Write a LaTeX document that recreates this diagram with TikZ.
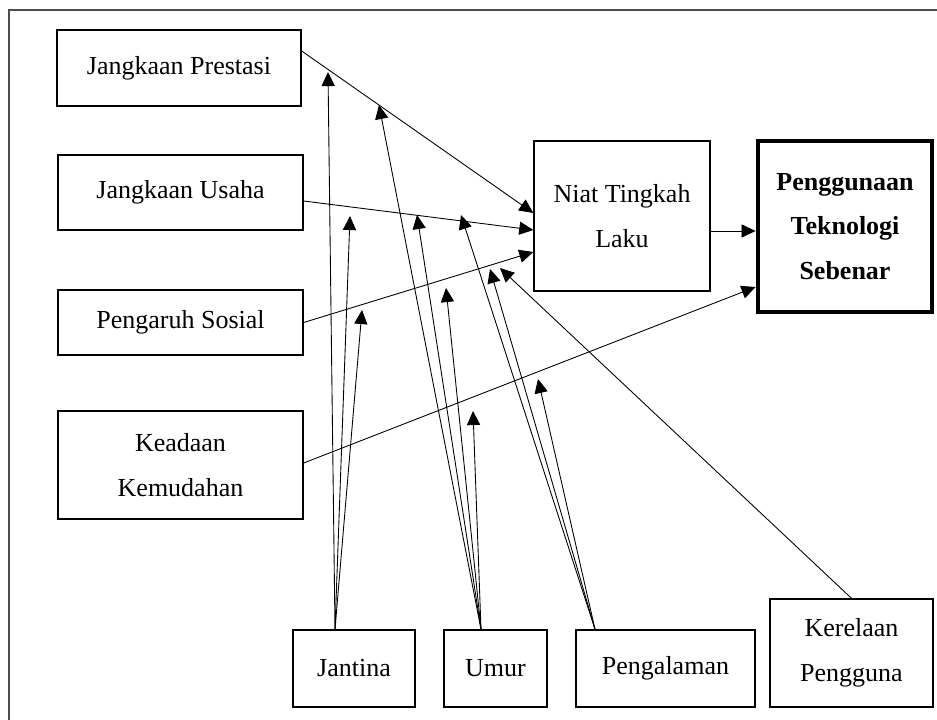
\documentclass[tikz,border=0pt]{standalone}
\usepackage{fontspec}
\setmainfont{Liberation Serif}
\usetikzlibrary{arrows.meta}

\tikzset{
  box/.style={draw, line width=0.8pt, align=center, inner sep=2pt,
    font=\fontsize{14.8}{25.5}\selectfont},
  mainbox/.style={box, line width=2.8pt, font=\fontsize{14.8}{25.5}\selectfont\bfseries},
  arr/.style={-{Triangle[length=8pt,width=7.5pt]}, line width=0.5pt},
}

\begin{document}
\begin{tikzpicture}[x=0.02cm, y=-0.02cm]
    \useasboundingbox (0,0) rectangle (937,720);
    % frame
    \draw[gray!60!black, line width=0.6pt] (937,10) -- (9,10) -- (9,720);

    % constructs on the left
    \node[box, minimum width=4.88cm, minimum height=1.52cm] (jp) at (179,68) {Jangkaan Prestasi};
    \node[box, minimum width=4.9cm, minimum height=1.5cm] (ju) at (180.5,192.5) {Jangkaan Usaha};
    \node[box, minimum width=4.9cm, minimum height=1.3cm] (ps) at (180.5,322.5) {Pengaruh Sosial};
    \node[box, minimum width=4.9cm, minimum height=2.16cm] (kk) at (180.5,465) {Keadaan\\Kemudahan};

    % intention and use
    \node[box, minimum width=3.52cm, minimum height=3cm] (ntl) at (622,216) {Niat Tingkah\\Laku};
    \node[mainbox, minimum width=3.48cm, minimum height=3.42cm] (pts) at (845,226.5) {Penggunaan\\Teknologi\\Sebenar};

    % moderators
    \node[box, minimum width=2.44cm, minimum height=1.54cm] (jan) at (354,668.5) {Jantina};
    \node[box, minimum width=2.06cm, minimum height=1.54cm] (umur) at (495.5,668.5) {Umur};
    \node[box, minimum width=3.58cm, minimum height=1.54cm] (peng) at (665.5,668.5) {Pengalaman};
    \node[box, minimum width=3.26cm, minimum height=2.16cm] (kp) at (851.5,653) {Kerelaan\\Pengguna};

    % main paths
    \draw[arr] ([yshift=0.34cm]jp.east) -- ([yshift=0.06cm]ntl.west);
    \draw[arr] ([yshift=-0.17cm]ju.east) -- ([yshift=-0.28cm]ntl.west);
    \draw[arr] (ps.east) -- ([yshift=-0.72cm]ntl.west);
    \draw[arr] ([yshift=0.04cm]kk.east) -- ([yshift=-1.21cm]pts.west);
    \draw[arr] ([yshift=-0.3cm]ntl.east) -- ([yshift=-0.3cm]ntl.east -| pts.west);

    % tips of the moderating arrows
    \coordinate (jan1) at (328,72);
    \coordinate (jan2) at (350,216);
    \coordinate (jan3) at (362,310);
    \coordinate (umur1) at (379,105);
    \coordinate (umur2) at (417,215);
    \coordinate (umur3) at (446,288);
    \coordinate (umur4) at (473,411);
    \coordinate (peng1) at (461,215);
    \coordinate (peng2) at (490,269);
    \coordinate (peng3) at (538,379);
    \coordinate (kp1) at (500,268);

    % moderating arrows
    \foreach \t in {jan1,jan2,jan3}
        \draw[arr] ([xshift=-0.38cm]jan.north) -- (\t);
    \foreach \t in {umur1,umur2,umur3,umur4}
        \draw[arr] ([xshift=-0.29cm]umur.north) -- (\t);
    \foreach \t in {peng1,peng2,peng3}
        \draw[arr] ([xshift=-1.41cm]peng.north) -- (\t);
    \draw[arr] (kp.north) -- (kp1);
\end{tikzpicture}
\end{document}
